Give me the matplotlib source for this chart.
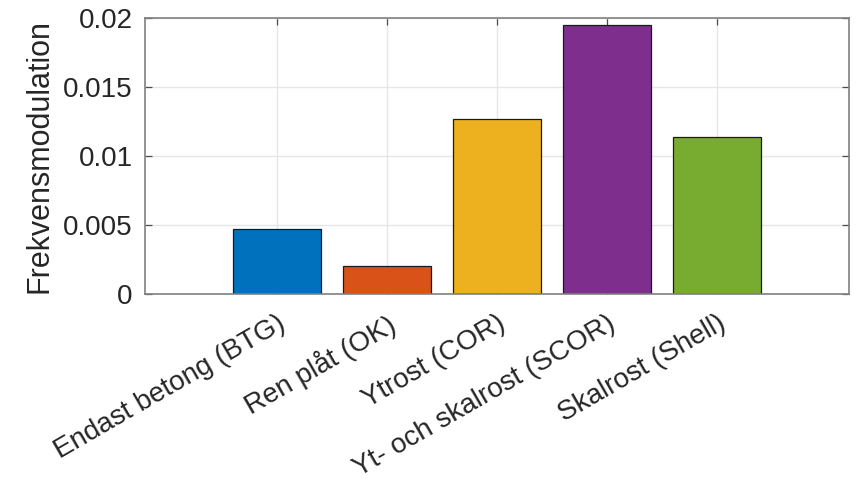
import matplotlib
matplotlib.use("Agg")
import matplotlib.pyplot as plt

categories = ["Endast betong (BTG)", "Ren plåt (OK)", "Ytrost (COR)",
              "Yt- och skalrost (SCOR)", "Skalrost (Shell)"]
values = [0.00467, 0.00201, 0.01264, 0.01947, 0.01138]
colors = ["#0072BD", "#D95319", "#EDB120", "#7E2F8E", "#77AC30"]
yticks = [0, 0.005, 0.01, 0.015, 0.02]
ytick_labels = ["0", "0.005", "0.01", "0.015", "0.02"]
ylabel = "Frekvensmodulation"

plt.rcParams["font.family"] = ["Liberation Sans", "DejaVu Sans"]
text_color = "#262626"
axis_color = "#808080"

fig = plt.figure(figsize=(8.61, 4.79), dpi=100)
ax = fig.add_axes([0.168, 0.387, 0.818, 0.576])

positions = list(range(1, len(categories) + 1))
ax.bar(positions, values, width=0.8, color=colors,
       edgecolor="#1a1a1a", linewidth=0.9, zorder=3)

ax.set_xlim(-0.2, 6.2)
ax.set_ylim(0, 0.02)
ax.set_yticks(yticks)
ax.set_yticklabels(ytick_labels)
ax.set_xticks(positions)
ax.set_xticklabels(categories, rotation=30, ha="right",
                   rotation_mode="anchor")

ax.grid(True, color="#e6e6e6", linewidth=1.0, zorder=0)
ax.tick_params(axis="both", direction="in", length=5, width=0.9,
               color="#4d4d4d", labelsize=20, labelcolor=text_color,
               top=True, right=True)
ax.tick_params(axis="x", pad=12)
ax.tick_params(axis="y", pad=8.5)
for s in ax.spines.values():
    s.set_color(axis_color)
    s.set_linewidth(1.2)
    s.set_zorder(4)

# y-axis title placed beside the tick labels, centred on the axes
fig.text(40 / 861, 1 - 155.7 / 479, ylabel, rotation=90, fontsize=22,
         color=text_color, ha="center", va="center")

fig.savefig("out.png", dpi=100)
